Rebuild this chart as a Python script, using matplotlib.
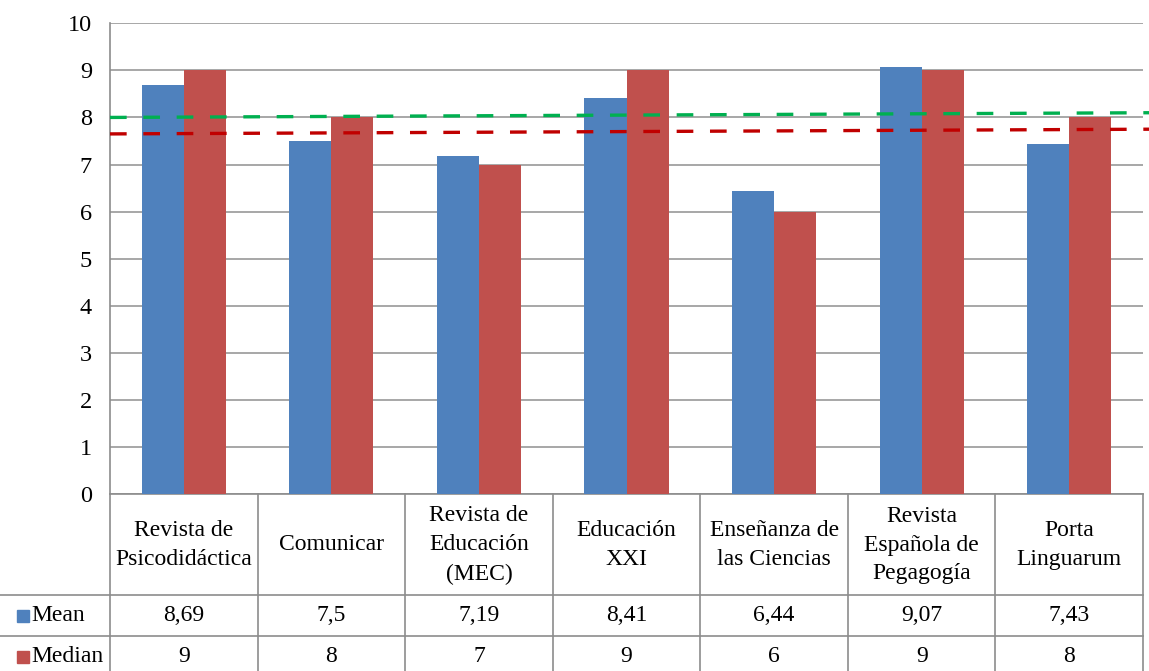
import numpy as np
import matplotlib.pyplot as plt
from matplotlib.transforms import blended_transform_factory
from matplotlib.patches import Rectangle
from matplotlib.lines import Line2D

plt.rcParams['font.family'] = ['Liberation Serif', 'DejaVu Serif']

categories = ["Revista de\nPsicodidáctica", "Comunicar", "Revista de\nEducación\n(MEC)",
              "Educación\nXXI", "Enseñanza de\nlas Ciencias", "Revista\nEspañola de\nPegagogía",
              "Porta\nLinguarum"]
mean_vals = [8.69, 7.5, 7.19, 8.41, 6.44, 9.07, 7.43]
median_vals = [9, 8, 7, 9, 6, 9, 8]
series_names = ["Mean", "Median"]
green_ref = [8.0, 8.1]   # dashed reference lines (left end, right end)
red_ref = [7.65, 7.75]
yticks = list(range(0, 11))

blue, red = '#4F81BD', '#C0504D'
grid_c = '#A0A0A0'
line_c = '#8C8C8C'

W, H = 1149, 671
fig = plt.figure(figsize=(W / 100, H / 100), dpi=100)
L, R, T, B = 110, 1143, 23.3, 494
ax = fig.add_axes([L / W, (H - B) / H, (R - L) / W, (B - T) / H])

def fy(p):
    return (H - p) / H

def fx(p):
    return p / W

n = len(categories)
x = np.arange(n)
bw = 0.285
ax.bar(x - bw / 2, mean_vals, bw, color=blue, zorder=3)
ax.bar(x + bw / 2, median_vals, bw, color=red, zorder=3)

fs = 17
ax.set_xlim(-0.5, n - 0.5)
ax.set_ylim(0, 10)
ax.set_yticks(yticks)
ax.set_yticklabels([str(t) for t in yticks], fontsize=17.5)
ax.tick_params(axis='y', length=0, pad=13)
ax.set_xticks([])
ax.yaxis.grid(True, color=grid_c, linewidth=1.3, zorder=0)
for s in ['top', 'right']:
    ax.spines[s].set_visible(False)
for s in ['left', 'bottom']:
    ax.spines[s].set_color(line_c)
    ax.spines[s].set_linewidth(1.2)

# dashed reference lines
xr = [-0.5, n - 0.5 + 6 / 147.6]
ax.plot(xr, green_ref, color='#00B050', lw=2.4, ls=(0, (5, 5)), zorder=4, clip_on=False)
ax.plot(xr, red_ref, color='#C00000', lw=2.4, ls=(0, (5, 5)), zorder=4, clip_on=False)

# data table
blend = blended_transform_factory(ax.transData, fig.transFigure)
for i in range(n + 1):
    fig.add_artist(Line2D([i - 0.5, i - 0.5], [fy(B), 0], transform=blend,
                          color=line_c, lw=1.2))
for yy in [595, 636]:
    fig.add_artist(Line2D([fx(0), fx(R)], [fy(yy), fy(yy)], transform=fig.transFigure,
                          color=line_c, lw=1.2))

for i, cat in enumerate(categories):
    fig.text(i, fy(545), cat, transform=blend, ha='center', va='center',
             fontsize=fs, linespacing=1.5)
    fig.text(i, fy(615.5), f"{mean_vals[i]:g}".replace('.', ','), transform=blend,
             ha='center', va='center', fontsize=fs)
    fig.text(i, fy(656.5), f"{median_vals[i]:g}".replace('.', ','), transform=blend,
             ha='center', va='center', fontsize=fs)

for name, col, yc in zip(series_names, [blue, red], [615.5, 656.5]):
    fig.add_artist(Rectangle((fx(17), fy(yc + 6)), fx(12), 12 / H,
                             transform=fig.transFigure, color=col))
    fig.text(fx(31), fy(yc), name, ha='left', va='center', fontsize=fs)

fig.savefig('out.png', dpi=100)
